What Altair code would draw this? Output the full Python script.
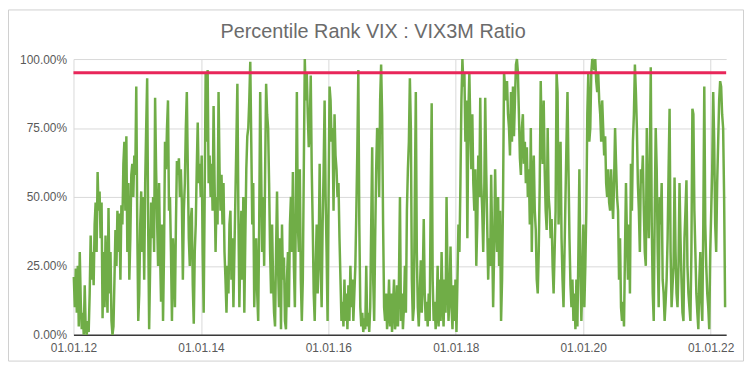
import altair as alt
import pandas as pd

title_text = "Percentile Rank VIX : VIX3M Ratio"
start_date = "2012-01-03"
end_date = "2022-03-25"

# percentile rank values (%), read left to right from the picture
seg_2012_2013 = [21, 10, 24, 8, 25, 3, 30, 12, 2, 8,
                 0, 18, 2, 0, 5, 1, 15, 36, 20, 30,
                 18, 40, 48, 30, 59, 45, 52, 35, 48, 6,
                 30, 10, 36, 20, 8, 46, 15, 30, 5, 0,
                 3, 20, 38, 25, 45, 30, 44, 20, 47, 40,
                 62, 70, 45, 72, 30, 55, 20, 35, 58, 62,
                 50, 65, 58, 90, 40, 5, 15, 40, 52, 30,
                 50, 20, 55, 75, 93, 40, 2, 25, 48, 35,
                 50, 30, 86, 60, 42, 25, 55, 30, 12, 40,
                 5, 30, 70, 60, 75, 85, 45, 50, 30, 5,
                 35, 25, 10, 40, 63, 58, 64, 50, 60, 48]
seg_2013_2015 = [20, 45, 55, 75, 88, 60, 35, 25, 42, 46,
                 18, 4, 30, 40, 60, 77, 55, 62, 50, 65,
                 30, 8, 50, 95, 70, 96, 55, 65, 50, 62,
                 45, 83, 55, 30, 50, 40, 88, 60, 45, 58,
                 40, 55, 30, 20, 8, 25, 15, 40, 45, 20,
                 35, 10, 30, 50, 70, 91, 45, 10, 30, 45,
                 20, 50, 8, 35, 60, 72, 75, 85, 99, 70,
                 40, 55, 10, 25, 35, 15, 5, 40, 88, 60,
                 30, 50, 25, 60, 91, 80, 75, 55, 30, 15,
                 40, 20, 8, 3, 30, 52, 25, 10, 35, 2,
                 40, 20, 28, 5, 2, 20, 30, 10, 40, 50]
seg_2015_2017 = [30, 59, 25, 10, 45, 88, 40, 30, 60, 20,
                 5, 20, 60, 100, 85, 95, 80, 68, 75, 94,
                 60, 40, 15, 5, 25, 40, 15, 30, 62, 25,
                 10, 40, 60, 85, 50, 30, 5, 50, 90, 85,
                 70, 75, 45, 80, 65, 60, 50, 55, 35, 20,
                 5, 12, 3, 20, 5, 15, 2, 18, 5, 25,
                 10, 20, 5, 15, 25, 45, 67, 96, 40, 10,
                 3, 8, 1, 6, 2, 25, 3, 8, 1, 10,
                 40, 68, 20, 5, 35, 60, 75, 72, 50, 85,
                 98, 80, 40, 10, 5, 15, 2, 8, 20, 3,
                 15, 1, 10, 20, 2, 5, 18, 3, 20, 50]
seg_2017_2018 = [5, 15, 2, 10, 25, 8, 45, 60, 70, 93,
                 75, 20, 5, 10, 50, 88, 30, 10, 3, 15,
                 27, 8, 20, 42, 15, 5, 12, 3, 15, 5,
                 50, 84, 20, 5, 12, 2, 8, 25, 3, 20,
                 5, 30, 12, 3, 20, 8, 50, 20, 5, 15,
                 32, 10, 2, 18, 5, 20, 1, 20, 40, 30,
                 55, 85, 100, 90, 95, 70, 85, 35, 80, 95,
                 75, 60, 80, 55, 45, 60, 25, 40, 65, 50,
                 86, 55, 45, 30, 50, 86, 60, 40, 20, 35,
                 25, 58, 35, 10, 30, 60, 40, 30, 50, 25,
                 45, 5, 20, 50, 95, 90, 85, 92, 80, 75]
seg_2019_2020 = [65, 88, 70, 90, 72, 85, 98, 100, 95, 80,
                 64, 58, 75, 80, 62, 70, 55, 68, 50, 60,
                 40, 75, 30, 55, 65, 45, 38, 20, 15, 30,
                 55, 92, 70, 62, 85, 60, 45, 38, 75, 50,
                 45, 35, 42, 25, 15, 30, 45, 95, 88, 40,
                 55, 70, 35, 20, 10, 30, 50, 70, 88, 60,
                 35, 18, 10, 20, 5, 15, 2, 20, 3, 30,
                 60, 25, 5, 20, 40, 10, 25, 45, 80, 95,
                 70, 75, 95, 100, 99, 96, 100, 92, 88, 95,
                 85, 80, 70, 85, 75, 65, 72, 55, 50, 60,
                 48, 45, 60, 50, 42, 55, 75, 62, 50, 45]
seg_2020_2022 = [20, 35, 10, 5, 12, 3, 30, 55, 35, 20,
                 40, 15, 62, 45, 70, 80, 98, 88, 75, 55,
                 45, 30, 60, 55, 65, 45, 30, 25, 75, 50,
                 35, 60, 97, 40, 15, 5, 45, 75, 60, 30,
                 10, 50, 40, 55, 20, 15, 5, 12, 20, 35,
                 60, 82, 30, 10, 18, 25, 57, 30, 15, 10,
                 25, 55, 35, 20, 8, 5, 35, 45, 56, 25,
                 15, 10, 5, 30, 82, 80, 45, 30, 15, 8,
                 2, 20, 30, 12, 5, 40, 90, 40, 25, 15,
                 10, 2, 30, 45, 60, 88, 70, 40, 30, 55,
                 70, 85, 92, 90, 80, 75, 50, 10]

threshold = [0.95]
tick_years = [2012, 2014, 2016, 2018, 2020, 2022]
y_ticks = [0, 0.25, 0.5, 0.75, 1.0]

values = (seg_2012_2013 + seg_2013_2015 + seg_2015_2017 +
          seg_2017_2018 + seg_2019_2020 + seg_2020_2022)
dates = pd.date_range(start_date, end_date, periods=len(values))
df = pd.DataFrame({"date": dates, "rank": [v / 100 for v in values]})
df_thr = pd.DataFrame({"level": threshold, "label": [title_text]})

x_enc = alt.X(
    "date:T",
    title=None,
    scale=alt.Scale(domain=[alt.DateTime(year=2012, month=1, date=1),
                            alt.DateTime(year=2022, month=3, date=31)]),
    axis=alt.Axis(values=[alt.DateTime(year=y, month=1, date=1) for y in tick_years],
                  format="%d.%m.%y", grid=True, labelFlush=False,
                  domain=True, domainColor="#3a3a3a", domainWidth=1.5,
                  tickSize=0, labelPadding=8),
)
y_enc = alt.Y(
    "rank:Q",
    title=None,
    scale=alt.Scale(domain=[0, 1], nice=False),
    axis=alt.Axis(values=y_ticks, format=".2%", grid=True, domain=False,
                  tickSize=0, labelPadding=7),
)

line = alt.Chart(df).mark_line(color="#70ad47", strokeWidth=2.5).encode(x=x_enc, y=y_enc)

rule = alt.Chart(df_thr).mark_rule(color="#e8265a", strokeWidth=3).encode(
    y=alt.Y("level:Q", scale=alt.Scale(domain=[0, 1], nice=False))
)

frame = alt.Chart(df_thr).mark_rect(fill="transparent", stroke="#cfcfcf", strokeWidth=1).encode(
    x=alt.value(-65.5), x2=alt.value(675.5), y=alt.value(-49.5), y2=alt.value(304.5)
)

title = alt.Chart(df_thr).mark_text(
    font="Liberation Sans", fontSize=20, color="#6b6b6b", align="center", baseline="alphabetic"
).encode(x=alt.value(302), y=alt.value(-21), text="label:N")

chart = (
    alt.layer(frame, line, rule, title)
    .properties(
        width=658,
        height=278,
        autosize=alt.AutoSizeParams(type="none"),
        padding={"left": 66, "top": 50, "right": 19, "bottom": 30},
    )
    .configure_view(strokeWidth=0)
    .configure_axis(labelFont="Liberation Sans", labelFontSize=12, labelColor="#595959",
                    gridColor="#d9d9d9", gridWidth=1)
)

chart.save("out.html", embed_options={"renderer": "svg", "actions": False})
